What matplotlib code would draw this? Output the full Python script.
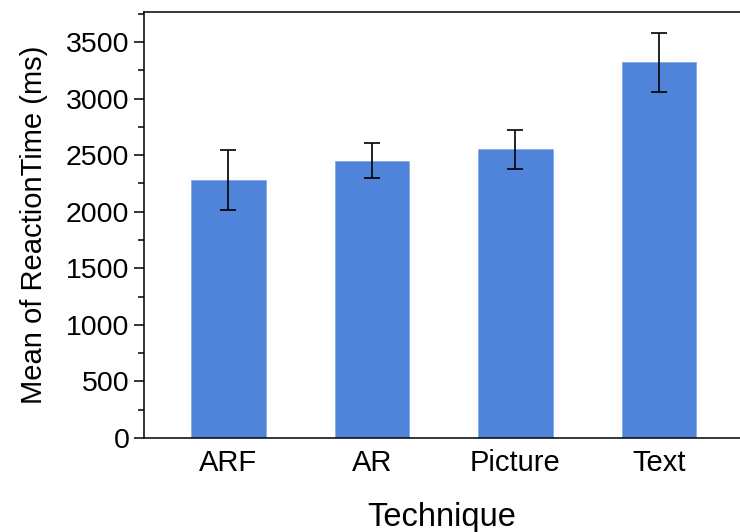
import numpy as np
import matplotlib
matplotlib.use('Agg')
import matplotlib.pyplot as plt
from matplotlib.ticker import MultipleLocator

plt.rcParams['font.family'] = ['Liberation Sans', 'DejaVu Sans']

techniques = ['ARF', 'AR', 'Picture', 'Text']
mean_rt = [2280, 2452, 2552, 3320]
err_rt = [265, 152, 172, 258]

fig = plt.figure(figsize=(7.4, 5.32), dpi=100)
ax = fig.add_axes([144 / 740, 1 - 438 / 532, 596 / 740, 425.7 / 532])

x = np.arange(len(techniques))
ax.bar(x, mean_rt, width=0.52, color='#4f84da', edgecolor='#86a9e8', linewidth=0.6, zorder=2)
ax.errorbar(x, mean_rt, yerr=err_rt, fmt='none', ecolor='black',
            elinewidth=1.2, capsize=5.8, capthick=1.2, zorder=3)

ax.set_xlim(-0.588, 3.565)
ax.set_ylim(0, 3762)
ax.yaxis.set_major_locator(MultipleLocator(500))
ax.yaxis.set_minor_locator(MultipleLocator(250))
ax.set_xticks(x)
ax.set_xticklabels(techniques)

ax.spines['right'].set_visible(False)
for s in ['left', 'bottom', 'top']:
    ax.spines[s].set_linewidth(1.1)

ax.tick_params(axis='y', which='major', length=7.5, width=1.1, pad=3, labelsize=20.5)
ax.tick_params(axis='y', which='minor', length=4.5, width=1.1)
ax.tick_params(axis='x', length=0, pad=8, labelsize=21)

ax.set_xlabel('Technique', fontsize=23.5, labelpad=18)
ax.set_ylabel('Mean of ReactionTime (ms)', fontsize=21, labelpad=13)

fig.savefig('out.png', dpi=100)
